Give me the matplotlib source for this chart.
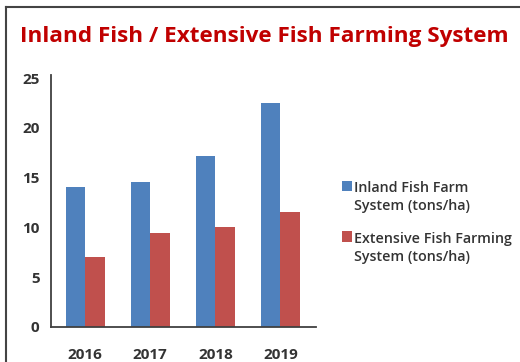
import numpy as np
import matplotlib.pyplot as plt
from matplotlib.lines import Line2D
from matplotlib.patches import Rectangle
from matplotlib.legend_handler import HandlerPatch

# Data
years = ["2016", "2017", "2018", "2019"]
inland = [14.1, 14.6, 17.2, 22.5]
extensive = [7.0, 9.4, 10.0, 11.5]
labels = ["Inland Fish Farm\nSystem (tons/ha)", "Extensive Fish Farming\nSystem (tons/ha)"]
yticks = [0, 5, 10, 15, 20, 25]

plt.rcParams['font.family'] = ['Open Sans', 'DejaVu Sans']

fig = plt.figure(figsize=(5.2, 3.62), dpi=100)
ax = fig.add_axes([0.0975, 0.0975, 0.5105, 0.6955])

x = np.arange(len(years))
w = 0.3
b1 = ax.bar(x - w / 2, inland, w, color="#4F81BD")
b2 = ax.bar(x + w / 2, extensive, w, color="#C0504D")

ax.set_xlim(-0.53, 3.55)
ax.set_ylim(0, 25.33)
ax.set_yticks(yticks)
ax.set_xticks(x)
ax.set_xticklabels(years)
ax.tick_params(length=0, labelsize=11, colors="#333333")
ax.tick_params(axis="x", pad=15)
ax.tick_params(axis="y", pad=8)
for lab in ax.get_xticklabels() + ax.get_yticklabels():
    lab.set_fontweight("bold")
for s in ["top", "right"]:
    ax.spines[s].set_visible(False)
for s in ["left", "bottom"]:
    ax.spines[s].set_color("#404040")
    ax.spines[s].set_linewidth(1.3)

fig.text(0.508, 0.90, "Inland Fish / Extensive Fish Farming System", ha="center", va="center",
         color="#C00000", fontsize=16.2, fontweight="bold")


# legend square sits next to the first line of its label
def top_square(legend, orig_handle, xdescent, ydescent, width, height, fontsize):
    return Rectangle((-xdescent, -ydescent + 8.5), width, height)


h1 = b1.patches[0]
h2 = b2.patches[0]
leg = fig.legend(handles=[h1, h2], labels=labels, loc="upper left", bbox_to_anchor=(0.632, 0.535),
                 frameon=False, fontsize=10.3, handlelength=0.75, handleheight=0.75,
                 handletextpad=0.1, labelspacing=1.3, labelcolor="#333333",
                 handler_map={h1: HandlerPatch(patch_func=top_square),
                              h2: HandlerPatch(patch_func=top_square)})
for t in leg.get_texts():
    t.set_fontweight("semibold")
    t.set_linespacing(1.35)

# thin frame around the picture
fig.add_artist(Line2D([0.012, 0.012], [0, 0.98], transform=fig.transFigure, color="#444444", lw=1.5))
fig.add_artist(Line2D([0.012, 1.0], [0.98, 0.98], transform=fig.transFigure, color="#444444", lw=1.5))

plt.savefig("out.png", dpi=100)
